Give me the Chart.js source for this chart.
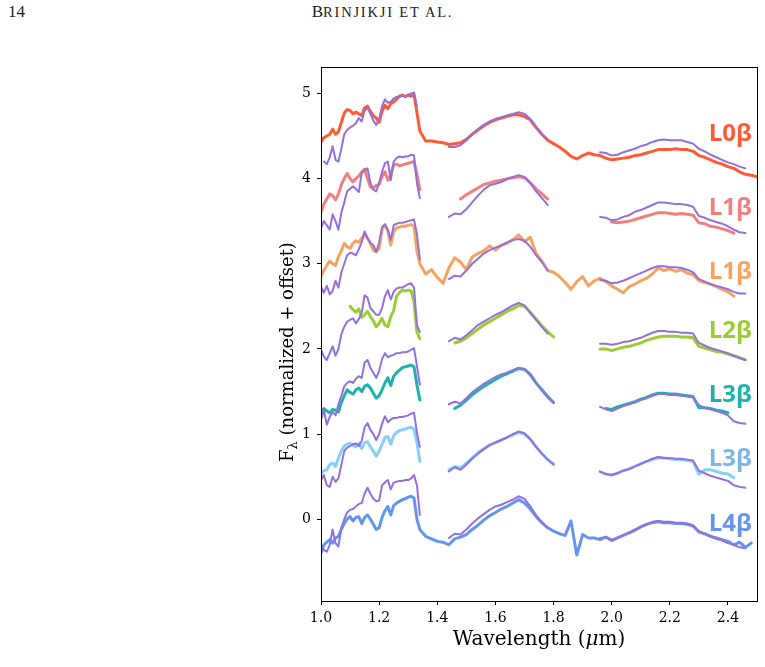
<!DOCTYPE html>
<html>
<head>
<meta charset="utf-8">
<script src="https://cdn.jsdelivr.net/npm/chart.js@4.4.0/dist/chart.umd.min.js"></script>
<style>
  body { margin: 0; background: #fff; }
  #wrap { position: relative; width: 765px; height: 667px; }
  canvas { position: absolute; left: 0; top: 0; }
  .hdr { position: absolute; top: 2px; font-family: "Liberation Serif", "DejaVu Serif", serif; font-size: 17px; color: #222; }
  .sc { font-size: 14.5px; letter-spacing: 1.8px; }
</style>
</head>
<body>
<div id="wrap">
  <div class="hdr" style="left:8px">14</div>
  <div class="hdr" style="left:0;width:765px;text-align:center;">B<span class="sc">RINJIKJI ET AL.</span></div>
  <canvas id="c" width="765" height="667"></canvas>
</div>
<script>
// wavelength grid (micron): J band at 0.01, the rest at 0.02
const wave = [
  1.00,1.01,1.02,1.03,1.04,1.05,1.06,1.07,1.08,1.09,1.10,1.11,1.12,1.13,1.14,1.15,1.16,1.17,1.18,1.19,
  1.20,1.21,1.22,1.23,1.24,1.25,1.26,1.27,1.28,1.29,1.30,1.31,1.32,1.33,1.34,
  1.36,1.38,1.40,1.42,1.44,1.46,1.48,1.50,1.52,1.54,1.56,1.58,1.60,1.62,1.64,1.66,1.68,1.70,1.72,1.74,
  1.76,1.78,1.80,1.82,1.84,1.86,1.88,1.90,1.92,1.94,
  1.96,1.98,2.00,2.02,2.04,2.06,2.08,2.10,2.12,2.14,2.16,2.18,2.20,2.22,2.24,2.26,2.28,2.30,2.32,2.34,
  2.36,2.38,2.40,2.42,2.44,2.46,2.48,2.50
];

const xTicks = [1.0, 1.2, 1.4, 1.6, 1.8, 2.0, 2.2, 2.4];
const yTicks = [0, 1, 2, 3, 4, 5];

// L0 beta
const l0b = [
  4.43,4.48,4.50,4.52,4.58,4.52,4.55,4.66,4.77,4.81,4.80,4.76,4.78,4.76,4.74,4.83,4.85,4.79,4.74,4.71,
  4.66,4.79,4.86,4.82,4.88,4.90,4.93,4.97,4.98,4.96,4.98,4.97,4.98,4.78,4.56,
  4.44,4.44,4.43,4.42,4.40,4.41,4.42,4.46,4.52,4.57,4.62,4.66,4.69,4.71,4.73,4.75,4.75,4.73,4.69,4.60,
  4.52,4.45,4.41,4.37,4.32,4.26,4.23,4.27,4.30,4.28,
  4.27,4.24,4.22,4.23,4.24,4.25,4.27,4.28,4.30,4.32,4.34,4.34,4.34,4.35,4.34,4.34,4.32,4.27,4.25,4.22,
  4.19,4.17,4.14,4.12,4.08,4.05,4.04,4.02
];
const l0bRef = [
  null,4.20,4.17,4.25,4.38,4.22,4.20,4.35,4.52,4.57,4.60,4.62,4.65,4.71,4.67,4.80,4.83,4.76,4.68,4.63,
  4.70,4.85,4.93,4.89,4.90,4.94,4.96,4.96,4.97,4.97,4.98,5.00,5.01,4.85,null,
  null,null,null,null,4.37,4.37,4.39,4.45,4.52,4.58,4.63,4.67,4.70,4.72,4.74,4.76,4.78,4.76,4.70,4.61,
  4.52,4.46,null,null,null,null,null,null,null,null,
  4.31,4.30,4.27,4.28,4.31,4.33,4.35,4.38,4.40,4.43,4.45,4.46,4.45,4.45,4.45,4.43,4.41,4.35,4.32,4.28,
  4.25,4.22,4.19,4.17,4.14,4.12,null,null
];

// L1 beta (first)
const l1bA = [
  3.61,3.70,3.76,3.82,3.80,3.75,3.82,3.93,4.00,4.06,4.00,3.96,4.00,4.03,4.08,4.11,4.00,3.90,3.89,3.92,
  3.93,4.02,4.08,3.98,4.05,4.16,4.17,4.15,4.16,4.17,4.18,4.19,4.20,4.05,3.87,
  null,null,null,null,null,null,3.76,3.81,3.85,3.89,3.93,3.95,3.97,3.98,4.00,4.01,4.02,4.01,3.95,3.88,
  3.82,3.76,null,null,null,null,null,null,null,null,
  null,null,3.49,3.48,3.49,3.50,3.52,3.54,3.56,3.58,3.60,3.60,3.59,3.58,3.59,3.58,3.57,3.48,3.47,3.44,
  3.43,3.41,3.39,3.36,null,null,null,null
];
const l1bARef = [
  3.42,3.50,3.45,3.40,3.58,3.50,3.40,3.60,3.72,3.85,3.88,3.91,3.88,3.84,4.06,4.10,4.12,3.95,3.87,3.85,
  3.95,4.08,4.18,4.20,3.98,4.20,4.24,4.26,4.25,4.26,4.26,4.28,4.27,3.95,3.77,
  null,null,null,null,3.55,3.59,3.58,3.64,3.72,3.80,3.87,3.92,3.94,3.96,3.99,4.02,4.04,4.02,3.95,3.85,
  3.77,3.69,null,null,null,null,null,null,null,null,
  3.55,3.54,3.51,3.52,3.55,3.57,3.61,3.63,3.66,3.69,3.72,3.72,3.71,3.70,3.70,3.69,3.67,3.56,3.54,3.51,
  3.49,3.47,3.44,3.40,3.37,3.36,null,null
];

// L1 beta (second)
const l1bB = [
  2.85,2.92,2.98,3.03,3.00,2.98,3.08,3.15,3.24,3.20,3.18,3.24,3.27,3.25,3.30,3.34,3.30,3.24,3.16,3.14,
  3.18,3.40,3.46,3.38,3.22,3.38,3.42,3.43,3.44,3.44,3.45,3.46,3.44,3.15,3.00,
  2.88,2.93,2.84,2.77,2.95,3.07,3.02,2.93,3.08,3.12,3.15,3.21,3.16,3.22,3.24,3.28,3.34,3.26,3.31,3.12,
  3.03,2.92,2.90,2.85,2.78,2.70,2.79,2.85,2.74,2.80,
  2.83,2.79,2.74,2.70,2.66,2.73,2.76,2.80,2.83,2.88,2.95,2.92,2.94,2.91,2.93,2.89,2.87,2.80,2.78,2.76,
  2.73,2.70,2.67,2.62,null,null,null,null
];
const l1bBRef = [
  2.73,2.66,2.74,2.64,2.68,2.80,2.72,2.90,3.00,3.10,3.13,3.12,3.10,3.17,3.25,3.38,3.30,3.24,3.22,3.14,
  3.25,3.43,3.46,3.40,3.28,3.45,3.47,3.48,3.48,3.49,3.50,3.51,3.52,3.35,3.05,
  null,null,null,null,2.82,2.86,2.85,2.92,3.00,3.06,3.12,3.16,3.19,3.21,3.25,3.28,3.29,3.27,3.20,3.10,
  3.02,2.92,null,null,null,null,null,null,null,null,
  2.81,2.80,2.77,2.78,2.80,2.83,2.86,2.89,2.92,2.95,2.97,2.97,2.96,2.96,2.95,2.93,2.90,2.82,2.79,2.76,
  2.74,2.72,2.70,2.67,2.65,2.65,null,null
];

// L2 beta
const l2b = [
  null,null,null,null,null,null,null,null,null,null,2.50,2.46,2.43,2.47,2.37,2.40,2.44,2.38,2.33,2.26,
  2.30,2.36,2.28,2.26,2.38,2.45,2.62,2.66,2.69,2.68,2.69,2.68,2.55,2.20,2.12,
  null,null,null,null,null,2.07,2.09,2.13,2.18,2.23,2.28,2.32,2.36,2.40,2.44,2.47,2.51,2.50,2.43,2.35,
  2.27,2.20,2.14,null,null,null,null,null,null,null,
  2.00,2.00,1.98,2.00,2.02,2.03,2.05,2.07,2.10,2.12,2.14,2.15,2.15,2.15,2.14,2.14,2.13,2.03,2.01,1.99,
  1.97,1.96,1.94,1.92,1.90,1.87,null,null
];
const l2bRef = [
  1.99,1.91,1.87,1.95,2.03,1.92,2.00,2.17,2.26,2.32,2.34,2.36,2.30,2.35,2.42,2.63,2.60,2.48,2.44,2.40,
  2.40,2.48,2.62,2.69,2.58,2.67,2.71,2.72,2.72,2.74,2.76,2.77,2.72,2.28,2.20,
  null,null,null,null,2.09,2.13,2.11,2.16,2.22,2.28,2.32,2.36,2.40,2.43,2.47,2.51,2.54,2.51,2.42,2.34,
  2.26,2.18,null,null,null,null,null,null,null,null,
  2.06,2.06,2.05,2.06,2.08,2.09,2.11,2.13,2.16,2.19,2.21,2.21,2.20,2.20,2.19,2.19,2.18,2.07,2.04,2.01,
  1.99,1.97,1.95,1.92,1.89,1.87,null,null
];

// L3 beta (first)
const l3bA = [
  1.25,1.30,1.27,1.25,1.29,1.28,1.26,1.37,1.45,1.52,1.49,1.47,1.52,1.54,1.50,1.56,1.58,1.54,1.48,1.42,
  1.45,1.52,1.60,1.66,1.57,1.68,1.72,1.75,1.78,1.79,1.80,1.81,1.79,1.58,1.40,
  null,null,null,null,null,1.30,1.34,1.40,1.46,1.51,1.56,1.60,1.64,1.68,1.71,1.74,1.77,1.76,1.70,1.60,
  1.52,1.44,1.37,null,null,null,null,null,null,null,
  null,1.30,1.29,1.32,1.34,1.36,1.38,1.41,1.43,1.46,1.48,1.48,1.47,1.47,1.46,1.45,1.44,1.31,1.31,1.30,
  1.28,1.27,1.25,null,null,null,null,null
];
const l3bARef = [
  1.17,1.28,1.11,1.20,1.26,1.22,1.35,1.45,1.56,1.60,1.62,1.60,1.65,1.68,1.66,1.84,1.87,1.78,1.72,1.66,
  1.74,1.88,1.95,1.90,1.92,1.93,1.95,1.95,1.96,1.96,1.97,1.99,2.01,1.80,1.58,
  null,null,null,null,1.35,1.38,1.36,1.42,1.49,1.54,1.59,1.63,1.67,1.70,1.72,1.75,1.78,1.76,1.69,1.60,
  1.51,1.43,1.37,null,null,null,null,null,null,null,
  1.32,1.29,1.27,1.30,1.33,1.35,1.37,1.40,1.42,1.45,1.47,1.47,1.46,1.46,1.45,1.44,1.43,1.34,1.31,1.29,
  1.27,1.25,1.22,1.15,1.13,1.12,null,null
];

// L3 beta (second)
const l3bB = [
  0.54,0.57,0.58,0.64,0.66,0.62,0.72,0.80,0.86,0.88,0.89,0.87,0.85,0.89,0.83,0.90,0.91,0.85,0.80,0.74,
  0.80,0.88,0.96,0.97,0.88,0.98,1.02,1.04,1.05,1.06,1.07,1.08,1.06,0.90,0.68,
  null,null,null,null,0.58,0.62,0.60,0.66,0.72,0.78,0.83,0.87,0.90,0.93,0.96,0.99,1.02,1.00,0.94,0.85,
  0.77,0.70,0.65,null,null,null,null,null,null,null,
  0.56,0.53,0.52,0.54,0.57,0.59,0.62,0.65,0.68,0.70,0.72,0.72,0.71,0.70,0.70,0.69,0.68,0.53,0.58,0.58,
  0.56,0.54,0.53,0.49,null,null,null,null
];
const l3bBRef = [
  0.46,0.52,0.40,0.38,0.50,0.44,0.48,0.64,0.80,0.84,0.86,0.88,0.89,0.86,0.92,1.08,1.13,1.05,1.00,0.93,
  1.00,1.12,1.21,1.14,1.17,1.19,1.19,1.20,1.20,1.21,1.22,1.24,1.25,1.02,0.85,
  null,null,null,null,0.56,0.61,0.58,0.64,0.71,0.77,0.82,0.87,0.90,0.93,0.96,1.00,1.03,1.01,0.94,0.85,
  0.77,0.70,0.64,null,null,null,null,null,null,null,
  0.56,0.53,0.52,0.54,0.57,0.59,0.62,0.65,0.68,0.71,0.73,0.72,0.72,0.71,0.71,0.70,0.69,0.57,0.54,0.51,
  0.49,0.47,0.45,0.40,0.38,0.37,null,null
];

// L4 beta
const l4b = [
  -0.40,-0.30,-0.27,-0.24,-0.28,-0.22,-0.20,-0.12,-0.05,0.00,0.03,-0.02,0.02,0.03,-0.05,0.02,0.05,0.00,-0.06,-0.12,
  -0.10,0.02,0.10,0.15,0.05,0.16,0.19,0.21,0.23,0.24,0.26,0.27,0.25,0.00,-0.12,
  -0.20,-0.23,-0.26,-0.27,-0.30,-0.23,-0.21,-0.18,-0.12,-0.07,-0.01,0.04,0.08,0.12,0.15,0.19,0.23,0.19,0.12,0.03,
  -0.04,-0.10,-0.14,-0.17,-0.19,-0.02,-0.42,-0.18,-0.22,-0.22,
  -0.24,-0.21,-0.25,-0.22,-0.19,-0.16,-0.13,-0.09,-0.06,-0.04,-0.03,-0.04,-0.04,-0.05,-0.05,-0.06,-0.08,-0.15,-0.17,-0.20,
  -0.22,-0.24,-0.26,-0.30,-0.27,-0.33,-0.28,null
];
const l4bRef = [
  -0.33,-0.36,-0.38,-0.30,-0.12,-0.28,-0.32,-0.10,0.00,0.08,0.11,0.12,0.15,0.18,0.19,0.30,0.37,0.30,0.24,0.21,
  0.22,0.40,0.43,0.46,0.35,0.43,0.44,0.45,0.45,0.46,0.46,0.48,0.52,0.40,0.05,
  null,null,null,null,-0.22,-0.17,-0.18,-0.12,-0.05,0.01,0.06,0.11,0.15,0.17,0.20,0.23,0.27,0.24,0.15,0.05,
  -0.04,-0.10,null,null,null,null,null,null,null,null,
  -0.22,-0.21,-0.24,-0.22,-0.19,-0.16,-0.12,-0.09,-0.06,-0.03,-0.02,-0.03,-0.03,-0.04,-0.04,-0.05,-0.07,-0.14,-0.17,-0.20,
  -0.23,-0.25,-0.28,-0.30,-0.33,-0.34,null,null
];

const spectra = [l0b, l1bA, l1bB, l2b, l3bA, l3bB, l4b];
const templates = [l0bRef, l1bARef, l1bBRef, l2bRef, l3bARef, l3bBRef, l4bRef];
const names = ['L0β', 'L1β', 'L1β', 'L2β', 'L3β', 'L3β', 'L4β'];
// flux level where each name sits, and the wavelength of its left edge
const nameLevels = [4.44, 3.57, 2.82, 2.13, 1.38, 0.62, -0.14];
const nameWave = 2.334;

const lineColors = ['#FF5A36', '#F08080', '#F4A460', '#9ACD32', '#20B2AA', '#87CEFA', '#6495ED'];
const textColors = ['#FF5A36', '#F08080', '#F4A460', '#9ACD32', '#20B2AA', '#7DB6E2', '#6495ED'];
const refColor = '#9370DB';

const toXY = arr => arr.map((v, i) => ({ x: wave[i], y: v }));

const datasets = [];
spectra.forEach((s, i) => {
  datasets.push({ data: toXY(s), borderColor: lineColors[i], borderWidth: 3, order: 2 });
  datasets.push({ data: toXY(templates[i]), borderColor: refColor, borderWidth: 2, order: 1 });
});

const serif = '"DejaVu Serif", serif';

// box around the axes + axis titles + spectral type names
const decorations = {
  id: 'decorations',
  afterDatasetsDraw(chart) {
    const { ctx, scales } = chart;
    ctx.save();
    ctx.font = 'bold 24px "Open Sans", sans-serif';
    ctx.textAlign = 'left';
    ctx.textBaseline = 'alphabetic';
    names.forEach((n, i) => {
      ctx.fillStyle = textColors[i];
      ctx.fillText(n, scales.x.getPixelForValue(nameWave), scales.y.getPixelForValue(nameLevels[i]));
    });
    ctx.restore();
  },
  afterDraw(chart) {
    const { ctx, chartArea: a } = chart;
    ctx.save();
    ctx.strokeStyle = '#000';
    ctx.lineWidth = 1;
    ctx.strokeRect(Math.round(a.left) + 0.5, Math.round(a.top) + 0.5, Math.round(a.right - a.left), Math.round(a.bottom - a.top));

    ctx.fillStyle = '#000';
    ctx.textBaseline = 'alphabetic';
    ctx.textAlign = 'left';

    // x title with italic mu
    const xParts = [['Wavelength (', '20px ' + serif], ['μ', 'italic 20px ' + serif], ['m)', '20px ' + serif]];
    let total = 0;
    xParts.forEach(p => { ctx.font = p[1]; total += ctx.measureText(p[0]).width; });
    let x = (a.left + a.right) / 2 - total / 2;
    xParts.forEach(p => { ctx.font = p[1]; ctx.fillText(p[0], x, 645); x += ctx.measureText(p[0]).width; });

    // y title, F with subscript lambda
    ctx.translate(293, 352);
    ctx.rotate(-Math.PI / 2);
    const yParts = [['F', '18px ' + serif, 0], ['λ', '13px ' + serif, 4], [' (normalized + offset)', '18px ' + serif, 0]];
    total = 0;
    yParts.forEach(p => { ctx.font = p[1]; total += ctx.measureText(p[0]).width; });
    x = -total / 2;
    yParts.forEach(p => { ctx.font = p[1]; ctx.fillText(p[0], x, p[2]); x += ctx.measureText(p[0]).width; });
    ctx.restore();
  }
};

new Chart(document.getElementById('c'), {
  type: 'line',
  data: { datasets },
  options: {
    responsive: false,
    animation: false,
    devicePixelRatio: 1,
    layout: { padding: { left: 0, right: 8, top: 67, bottom: 0 } },
    plugins: { legend: { display: false }, tooltip: { enabled: false } },
    elements: {
      point: { radius: 0 },
      line: { tension: 0, borderJoinStyle: 'round', borderCapStyle: 'round' }
    },
    scales: {
      x: {
        type: 'linear', min: 1.0, max: 2.5,
        afterFit(s) { s.height = 66; },
        afterBuildTicks(s) { s.ticks = xTicks.map(v => ({ value: v })); },
        ticks: { callback: v => v.toFixed(1), font: { family: serif, size: 14 }, color: '#000', padding: 5, maxRotation: 0, autoSkip: false },
        grid: { drawOnChartArea: false, drawTicks: true, tickLength: 4, color: '#000' },
        border: { display: false }
      },
      y: {
        type: 'linear', min: -0.96, max: 5.31,
        afterFit(s) { s.width = 321; },
        afterBuildTicks(s) { s.ticks = yTicks.map(v => ({ value: v })); },
        ticks: { font: { family: serif, size: 14 }, color: '#000', padding: 6, autoSkip: false },
        grid: { drawOnChartArea: false, drawTicks: true, tickLength: 4, color: '#000' },
        border: { display: false }
      }
    }
  },
  plugins: [decorations]
});
</script>
</body>
</html>
